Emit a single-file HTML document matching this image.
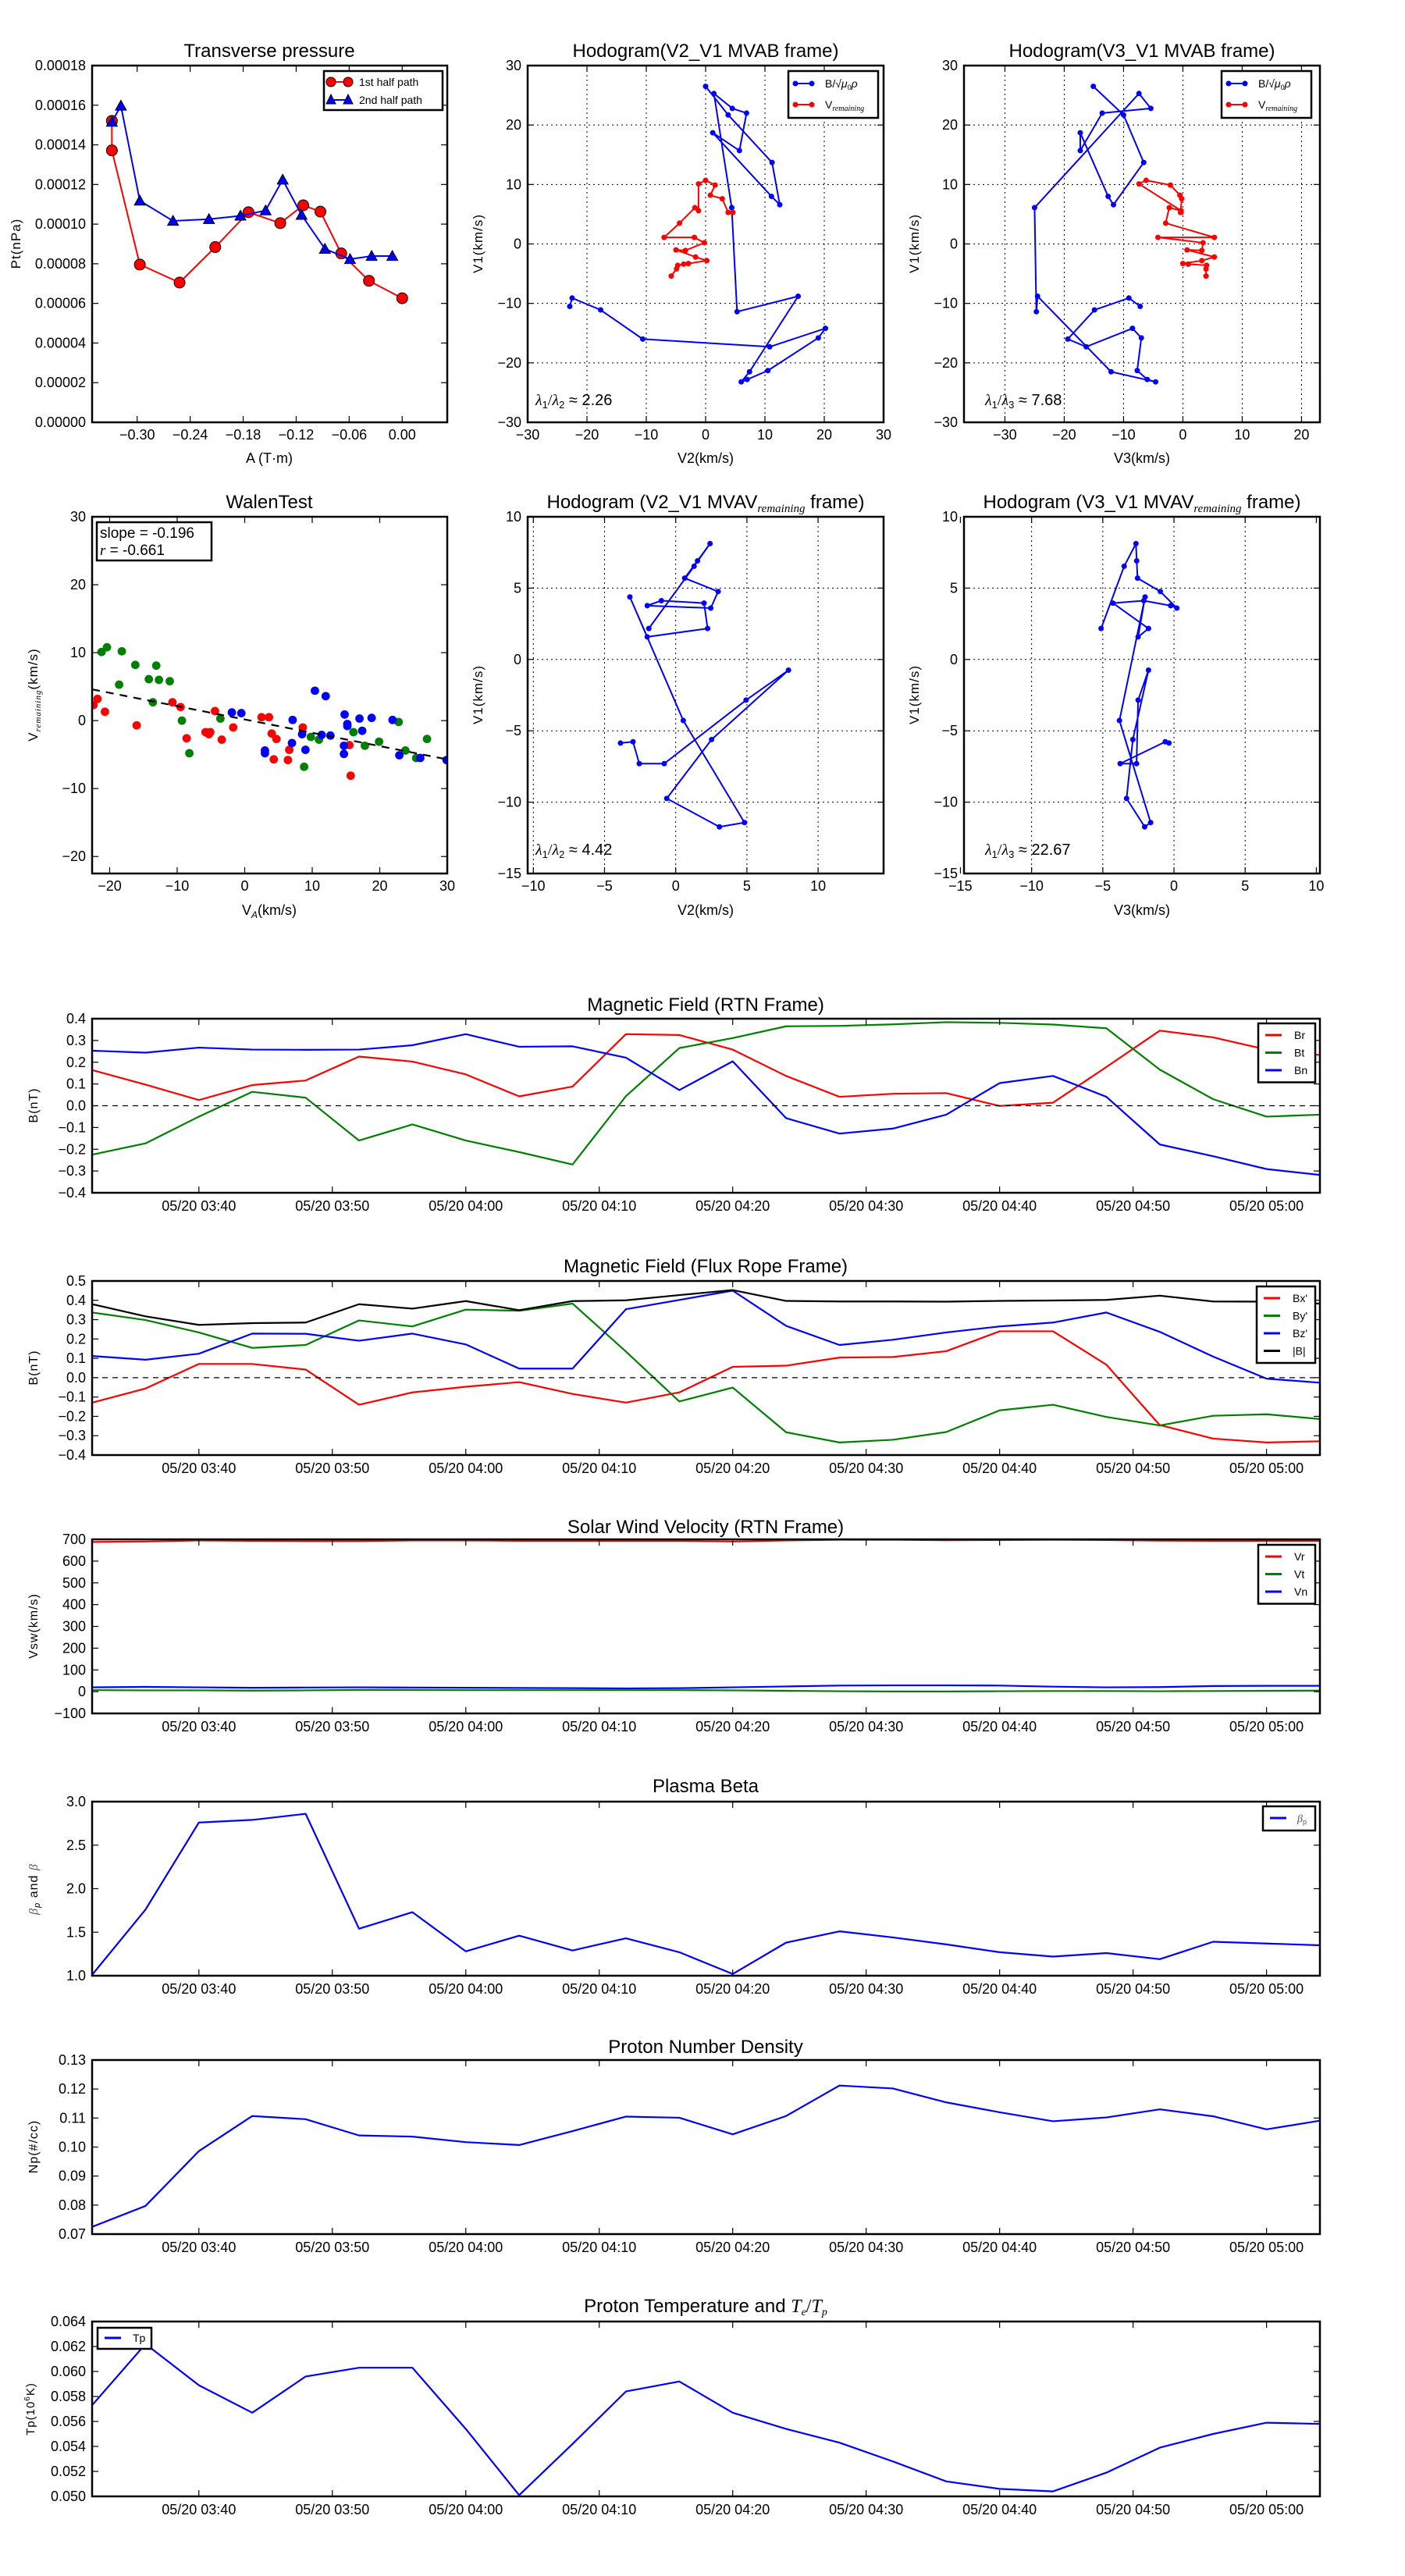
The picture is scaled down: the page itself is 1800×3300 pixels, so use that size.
<!DOCTYPE html>
<html><head><meta charset="utf-8"><title>Flux rope analysis</title>
<style>
html,body{margin:0;padding:0;background:#fff;}
svg{display:block;}
text{font-family:"Liberation Sans","DejaVu Sans",sans-serif;}
</style></head>
<body>
<svg id="fig" width="1800" height="3300" viewBox="0 0 1800 3300" xmlns="http://www.w3.org/2000/svg">
<rect x="0" y="0" width="1800" height="3300" fill="#fff"/>
</svg>
<script>
// ===== Data =====
// Transverse pressure
const tpA1 = [-0.3286,-0.3286,-0.297,-0.252,-0.2116,-0.174,-0.138,-0.112,-0.0926,-0.069,-0.0376,0];
const tpP1 = [0.0001521,0.0001372,0.0000796,0.0000705,0.0000884,0.000106,0.0001005,0.0001095,0.0001063,0.0000852,0.0000714,0.0000626];
const tpA2 = [-0.3286,-0.3184,-0.297,-0.2594,-0.2187,-0.1831,-0.1546,-0.1353,-0.1139,-0.0875,-0.059,-0.0346,-0.0112];
const tpP2 = [0.0001516,0.0001597,0.0001118,0.0001016,0.0001025,0.0001042,0.0001069,0.0001224,0.0001046,0.0000875,0.0000823,0.0000839];
tpP2.splice(12,0,0.0000839);
const tpYTicks = [0,0.00002,0.00004,0.00006,0.00008,0.0001,0.00012,0.00014,0.00016,0.00018];
const tpXTicks = [-0.30,-0.24,-0.18,-0.12,-0.06,0.00];

// MVAB hodograms (blue: B/sqrt(mu0 rho), red: V remaining)
const mvabV1 = [26.5,21.7,13.7,6.6,8.0,18.7,15.7,22.0,22.8,25.3,6.1,-11.4,-8.8,-21.5,-23.2,-22.8,-21.3,-15.8,-14.2,-17.3,-16.0,-11.1,-9.1,-10.5];
const mvabV2 = [0,3.8,11.2,12.5,11.1,1.2,5.7,6.9,4.5,1.4,4.4,5.3,15.6,7.4,6.0,7.0,10.5,19.0,20.2,10.8,-10.6,-17.7,-22.5,-22.9];
const mvabV3 = [-15.1,-10.0,-6.6,-11.7,-12.6,-17.3,-17.3,-13.6,-5.4,-7.4,-25.0,-24.7,-24.5,-12.1,-4.6,-6.0,-7.7,-7.0,-8.5,-16.3,-19.4,-14.9,-9.1,-7.2];
const remV1 = [-5.4,-4.2,-3.6,-3.4,-3.3,-2.8,-2.2,-1.0,-1.1,0.2,1.1,1.1,3.5,6.1,5.6,10.1,10.7,9.9,8.2,7.6,5.3,5.3];
const remV2 = [-5.8,-4.9,-4.7,-3.7,-2.9,0.2,-1.7,-5.0,-3.4,-0.2,-1.9,-7.0,-4.4,-1.8,-1.2,-1.2,0.0,1.6,0.8,2.8,3.8,4.6];
const remV3 = [3.9,3.9,4.0,0.9,0.0,3.2,5.3,0.7,3.2,3.4,-4.2,5.3,-2.9,-2.3,-0.3,-7.4,-6.2,-2.1,-0.5,-0.2,-0.4,-0.3];

// MVAV hodograms
const mvavV1 = [2.17,6.53,8.12,6.91,5.70,4.76,3.60,3.77,4.12,3.95,2.17,1.58,4.38,-4.28,-11.43,-11.73,-9.74,-5.61,-0.75,-2.85,-7.3,-7.3,-5.77,-5.86];
const mvavV2 = [-1.89,1.29,2.41,1.53,0.63,2.98,2.46,-2.0,-1.01,1.99,2.24,-2.0,-3.22,0.53,4.83,3.07,-0.63,2.52,7.92,4.94,-0.81,-2.56,-3.0,-3.88];
const mvavV3 = [-5.12,-3.5,-2.67,-2.62,-2.56,-0.96,0.2,-0.24,-2.12,-4.29,-1.79,-2.52,-2.03,-3.83,-1.64,-2.06,-3.33,-2.89,-1.79,-2.52,-2.63,-3.78,-0.61,-0.35];

// Walen test
const walenGX = [-21.2,-20.4,-18.2,-18.6,-16.2,-13.1,-14.2,-12.7,-11.1,-13.6,-9.3,-8.2,-3.6,8.8,9.8,11,16.1,17.8,19.9,22.8,23.8,25.4,27];
const walenGY = [10.1,10.8,10.2,5.3,8.2,8.1,6.1,6.0,5.8,2.7,0,-4.8,0.3,-6.8,-2.4,-2.8,-1.7,-3.7,-3.1,-0.2,-4.4,-5.5,-2.7];
const walenRX = [-22.4,-21.8,-20.7,-16,-10.7,-9.5,-8.6,-5.8,-5.3,-5.1,-4.4,-3.4,-1.7,2.5,3.6,4.0,4.7,4.3,6.4,6.6,8.6,15.5,15.7];
const walenRY = [2.3,3.2,1.3,-0.7,2.7,2.0,-2.6,-1.7,-2.0,-1.7,1.4,-2.8,-1.0,0.5,0.5,-1.9,-2.7,-5.7,-5.8,-4.3,-1.0,-3.6,-8.1];
const walenBX = [-1.9,-0.5,3.0,3.0,7.1,7.0,8.5,9.0,10.4,12,11.4,12.7,14.8,15.2,15.2,14.7,14.7,17,17.4,18.8,21.9,22.9,26,29.9];
const walenBY = [1.2,1.1,-4.4,-4.8,0.1,-3.3,-2.0,-4.3,4.4,3.6,-2.1,-2.2,0.9,-0.5,-0.8,-3.7,-4.9,0.3,-1.5,0.4,0.1,-5.1,-5.5,-5.8];
const walenSlope = -0.196;
const walenIntercept = 0.17;

// Time series (minutes after 03:00, every 4 min from 03:32)
const tMin = [32,36,40,44,48,52,56,60,64,68,72,76,80,84,88,92,96,100,104,108,112,116,120,124];
const timeTicks = [40,50,60,70,80,90,100,110,120];
const timeTickLabels = ['05/20 03:40','05/20 03:50','05/20 04:00','05/20 04:10','05/20 04:20','05/20 04:30','05/20 04:40','05/20 04:50','05/20 05:00'];
const Br = [0.164,0.097,0.026,0.095,0.116,0.226,0.203,0.144,0.043,0.088,0.329,0.325,0.258,0.137,0.041,0.055,0.058,-0.001,0.014,0.178,0.345,0.314,0.258,0.233];
const Bt = [-0.225,-0.173,-0.05,0.064,0.037,-0.16,-0.086,-0.16,-0.213,-0.27,0.044,0.265,0.311,0.365,0.367,0.374,0.384,0.381,0.373,0.356,0.166,0.03,-0.05,-0.041];
const Bn = [0.253,0.244,0.267,0.258,0.257,0.258,0.278,0.329,0.271,0.273,0.221,0.072,0.204,-0.057,-0.128,-0.105,-0.041,0.104,0.137,0.041,-0.178,-0.232,-0.291,-0.318];
const Bxp = [-0.129,-0.056,0.071,0.071,0.042,-0.14,-0.076,-0.047,-0.023,-0.084,-0.129,-0.076,0.056,0.062,0.104,0.107,0.137,0.24,0.24,0.067,-0.245,-0.315,-0.335,-0.329];
const Byp = [0.337,0.298,0.234,0.154,0.169,0.296,0.265,0.352,0.346,0.383,0.135,-0.123,-0.051,-0.282,-0.335,-0.321,-0.281,-0.169,-0.14,-0.203,-0.247,-0.197,-0.189,-0.214];
const Bzp = [0.112,0.093,0.124,0.228,0.227,0.191,0.228,0.172,0.047,0.047,0.354,0.402,0.45,0.268,0.169,0.196,0.234,0.265,0.285,0.337,0.237,0.109,-0.005,-0.026];
const Bmag = [0.38,0.317,0.273,0.282,0.285,0.38,0.357,0.396,0.349,0.396,0.4,0.427,0.453,0.397,0.394,0.394,0.393,0.397,0.399,0.402,0.424,0.394,0.393,0.383];
const Vr = [688,690,695,693,692,692,695,695,693,693,693,693,690,695,698,698,696,697,698,697,694,693,693,693];
const Vt = [7,6,6,5,6,8,8,7,7,7,7,7,6,4,2,1,1,2,3,3,2,3,4,5];
const Vn = [20,22,20,18,19,20,19,18,17,16,15,16,20,24,28,29,29,28,23,20,21,26,27,27];
const betaP = [1.01,1.76,2.76,2.79,2.86,1.54,1.73,1.28,1.46,1.29,1.43,1.27,1.02,1.38,1.51,1.44,1.36,1.27,1.22,1.26,1.19,1.39,1.37,1.35];
const Np = [0.0725,0.0797,0.0986,0.1107,0.1096,0.1040,0.1036,0.1017,0.1007,0.1055,0.1105,0.1101,0.1044,0.1107,0.1212,0.1202,0.1154,0.1120,0.1089,0.1102,0.1130,0.1106,0.1061,0.1091];
const Tp = [0.0573,0.0622,0.0589,0.0567,0.0596,0.0603,0.0603,0.0554,0.0501,0.0542,0.0584,0.0592,0.0567,0.0554,0.0543,0.0528,0.0512,0.0506,0.0504,0.0519,0.0539,0.0550,0.0559,0.0558];

// ===== Helpers =====
const NS = 'http://www.w3.org/2000/svg';
const svg = document.getElementById('fig');
let clipN = 0;
function mk(parent, tag, attrs, name) {
  const e = document.createElementNS(NS, tag);
  for (const k in attrs) e.setAttribute(k, attrs[k]);
  
  
  parent.appendChild(e);
  return e;
}
function txt(parent, x, y, s, size, anchor, name, extra) {
  const a = {x: x, y: y, 'font-size': size, 'text-anchor': anchor || 'start', fill: '#000'};
  if (extra) for (const k in extra) a[k] = extra[k];
  const t = mk(parent, 'text', a, name);
  t.textContent = s;
  return t;
}
function span(t, s, attrs, name) {
  const e = mk(t, 'tspan', attrs || {}, name);
  e.textContent = s;
  return e;
}
function fmt(v, d) { const s = Math.abs(v).toFixed(d); return (v < -1e-12 ? '\u2212' : '') + s; }
function axes(name, L, T, R, B, xmin, xmax, ymin, ymax) {
  const g = mk(svg, 'g', {}, name);
  const sx = v => L + (v - xmin) / (xmax - xmin) * (R - L);
  const sy = v => B - (v - ymin) / (ymax - ymin) * (B - T);
  const id = 'clip' + (clipN++);
  const cp = mk(g, 'clipPath', {id: id}, name + '-clip');
  mk(cp, 'rect', {x: L, y: T, width: R - L, height: B - T}, name + '-clip-rect');
  const plot = mk(g, 'g', {'clip-path': 'url(#' + id + ')'}, name + '-plot-area');
  return {g, plot, sx, sy, L, T, R, B, name};
}
function frame(a) {
  mk(a.g, 'rect', {x: a.L, y: a.T, width: a.R - a.L, height: a.B - a.T, fill: 'none', stroke: '#000', 'stroke-width': 2.5}, a.name + '-frame');
}
function xticks(a, vals, labels, off) {
  const g = mk(a.g, 'g', {}, a.name + '-x-axis');
  vals.forEach((v, i) => {
    const x = a.sx(v);
    mk(g, 'line', {x1: x, y1: a.B, x2: x, y2: a.B - 8, stroke: '#000', 'stroke-width': 1.2}, 'x-tick');
    mk(g, 'line', {x1: x, y1: a.T, x2: x, y2: a.T + 8, stroke: '#000', 'stroke-width': 1.2}, 'x-tick-top');
    txt(g, x, a.B + off, labels[i], 18, 'middle', 'x-tick-label');
  });
}
function yticks(a, vals, labels) {
  const g = mk(a.g, 'g', {}, a.name + '-y-axis');
  vals.forEach((v, i) => {
    const y = a.sy(v);
    mk(g, 'line', {x1: a.L, y1: y, x2: a.L + 8, y2: y, stroke: '#000', 'stroke-width': 1.2}, 'y-tick');
    mk(g, 'line', {x1: a.R, y1: y, x2: a.R - 8, y2: y, stroke: '#000', 'stroke-width': 1.2}, 'y-tick-right');
    txt(g, a.L - 8, y + 6, labels[i], 18, 'end', 'y-tick-label');
  });
}
function grid(a, xs, ys) {
  const g = mk(a.plot, 'g', {}, a.name + '-grid');
  xs.forEach(v => { const x = a.sx(v); mk(g, 'line', {x1: x, y1: a.T, x2: x, y2: a.B, stroke: '#000', 'stroke-width': 1, 'stroke-dasharray': '2,4'}, 'grid-line-x'); });
  ys.forEach(v => { const y = a.sy(v); mk(g, 'line', {x1: a.L, y1: y, x2: a.R, y2: y, stroke: '#000', 'stroke-width': 1, 'stroke-dasharray': '2,4'}, 'grid-line-y'); });
}
function line(a, xs, ys, color, w, name) {
  const pts = xs.map((x, i) => a.sx(x).toFixed(2) + ',' + a.sy(ys[i]).toFixed(2)).join(' ');
  return mk(a.plot, 'polyline', {points: pts, fill: 'none', stroke: color, 'stroke-width': w, 'stroke-linejoin': 'round'}, name);
}
function dots(a, xs, ys, color, r, name, edge) {
  const g = mk(a.plot, 'g', {}, name);
  xs.forEach((x, i) => {
    mk(g, 'circle', {cx: a.sx(x), cy: a.sy(ys[i]), r: r, fill: color, stroke: edge || 'none', 'stroke-width': 1}, name + '-point');
  });
  return g;
}
function tris(a, xs, ys, color, s, name) {
  const g = mk(a.plot, 'g', {}, name);
  xs.forEach((x, i) => {
    const cx = a.sx(x), cy = a.sy(ys[i]);
    mk(g, 'polygon', {points: cx + ',' + (cy - s) + ' ' + (cx - s) + ',' + (cy + s * 0.8) + ' ' + (cx + s) + ',' + (cy + s * 0.8), fill: color, stroke: '#000', 'stroke-width': 1}, name + '-point');
  });
  return g;
}
function title(x, y, s, name) { return txt(svg, x, y, s, 24, 'middle', name); }
function ylabel(x, y, s, name, size) {
  return txt(svg, x, y, s, size || 17, 'middle', name, {transform: 'rotate(-90 ' + x + ' ' + y + ')', 'font-family': '"DejaVu Sans",sans-serif', 'letter-spacing': '1'});
}

// ===== Row 1: Transverse pressure =====
(function(){
  const a = axes('transverse-pressure-chart', 118, 84, 573, 541, -0.351, 0.051, 0, 0.00018);
  line(a, tpA1, tpP1, '#ff0000', 2, 'first-half-path-line');
  dots(a, tpA1, tpP1, '#ff0000', 7, 'first-half-path-markers', '#000');
  line(a, tpA2, tpP2, '#0000ff', 2, 'second-half-path-line');
  tris(a, tpA2, tpP2, '#0000ff', 7, 'second-half-path-markers');
  frame(a);
  xticks(a, tpXTicks, tpXTicks.map(v => fmt(v, 2)), 22);
  yticks(a, tpYTicks, tpYTicks.map(v => v.toFixed(5)));
  title(345, 73, 'Transverse pressure', 'transverse-pressure-title');
  txt(svg, 345, 593, 'A (T\u00b7m)', 18, 'middle', 'x-axis-title');
  ylabel(26, 312, 'Pt(nPa)', 'y-axis-title');
  const lg = mk(svg, 'g', {}, 'transverse-pressure-legend');
  mk(lg, 'rect', {x: 415, y: 91, width: 152, height: 50, fill: '#fff', stroke: '#000', 'stroke-width': 2.5}, 'legend-box');
  mk(lg, 'line', {x1: 421, y1: 105, x2: 450, y2: 105, stroke: '#ff0000', 'stroke-width': 2}, 'legend-line-1st');
  mk(lg, 'circle', {cx: 424, cy: 105, r: 6, fill: '#ff0000', stroke: '#000'}, 'legend-marker-1st');
  mk(lg, 'circle', {cx: 446, cy: 105, r: 6, fill: '#ff0000', stroke: '#000'}, 'legend-marker-1st');
  txt(lg, 460, 110, '1st half path', 14, 'start', 'legend-label-1st');
  mk(lg, 'line', {x1: 421, y1: 128, x2: 450, y2: 128, stroke: '#0000ff', 'stroke-width': 2}, 'legend-line-2nd');
  mk(lg, 'polygon', {points: '424,121 418,133 430,133', fill: '#0000ff', stroke: '#000'}, 'legend-marker-2nd');
  mk(lg, 'polygon', {points: '446,121 440,133 452,133', fill: '#0000ff', stroke: '#000'}, 'legend-marker-2nd');
  txt(lg, 460, 133, '2nd half path', 14, 'start', 'legend-label-2nd');
})();

function hodoLegend(x, y, name) {
  const lg = mk(svg, 'g', {}, name);
  mk(lg, 'rect', {x: x, y: y, width: 115, height: 60, fill: '#fff', stroke: '#000', 'stroke-width': 2.5}, 'legend-box');
  mk(lg, 'line', {x1: x + 9, y1: y + 16, x2: x + 30, y2: y + 16, stroke: '#0000ff', 'stroke-width': 2}, 'legend-line-b');
  mk(lg, 'circle', {cx: x + 9, cy: y + 16, r: 3.5, fill: '#0000ff'}, 'legend-marker-b');
  mk(lg, 'circle', {cx: x + 30, cy: y + 16, r: 3.5, fill: '#0000ff'}, 'legend-marker-b');
  const t1 = txt(lg, x + 47, y + 21, 'B/\u221a', 14, 'start', 'legend-label-b');
  span(t1, '\u03bc', {'font-style': 'italic'}, 'mu');
  span(t1, '0', {'font-size': 9, dy: 3}, 'sub');
  span(t1, '\u03c1', {'font-style': 'italic', dy: -3}, 'rho');
  mk(lg, 'line', {x1: x + 9, y1: y + 43, x2: x + 30, y2: y + 43, stroke: '#ff0000', 'stroke-width': 2}, 'legend-line-v');
  mk(lg, 'circle', {cx: x + 9, cy: y + 43, r: 3.5, fill: '#ff0000'}, 'legend-marker-v');
  mk(lg, 'circle', {cx: x + 30, cy: y + 43, r: 3.5, fill: '#ff0000'}, 'legend-marker-v');
  const t2 = txt(lg, x + 47, y + 48, 'V', 14, 'start', 'legend-label-v');
  span(t2, 'remaining', {'font-size': 10, 'font-style': 'italic', 'font-family': '"Liberation Serif",serif', dy: 3}, 'sub');
}
function lambdaText(x, y, a, b, val, name) {
  const t = txt(svg, x, y, '', 20, 'start', name);
  span(t, '\u03bb', {'font-style': 'italic', 'font-family': '"Liberation Serif",serif'}, 'lambda');
  span(t, a, {'font-size': 13, dy: 4}, 'sub');
  span(t, '/', {dy: -4, 'font-family': '"Liberation Serif",serif'}, 'slash');
  span(t, '\u03bb', {'font-style': 'italic', 'font-family': '"Liberation Serif",serif'}, 'lambda');
  span(t, b, {'font-size': 13, dy: 4}, 'sub');
  span(t, ' \u2248 ' + val, {dy: -4}, 'value');
}

// ===== Row 1: Hodogram V2-V1 MVAB =====
(function(){
  const a = axes('hodogram-v2-v1-mvab', 676, 84, 1132, 541, -30, 30, -30, 30);
  grid(a, [-20,-10,0,10,20], [-20,-10,0,10,20]);
  line(a, mvabV2, mvabV1, '#0000ff', 2, 'b-alfven-path');
  dots(a, mvabV2, mvabV1, '#0000ff', 3.5, 'b-alfven-markers');
  line(a, remV2, remV1, '#ff0000', 2, 'v-remaining-path');
  dots(a, remV2, remV1, '#ff0000', 3.5, 'v-remaining-markers');
  frame(a);
  const tk = [-30,-20,-10,0,10,20,30];
  xticks(a, tk, tk.map(v => fmt(v, 0)), 22);
  yticks(a, tk, tk.map(v => fmt(v, 0)));
  title(904, 73, 'Hodogram(V2_V1 MVAB frame)', 'hodogram-mvab-v2-title');
  txt(svg, 904, 593, 'V2(km/s)', 18, 'middle', 'x-axis-title');
  ylabel(618, 312, 'V1(km/s)', 'y-axis-title');
  hodoLegend(1010, 91, 'hodogram-mvab-v2-legend');
  lambdaText(686, 519, '1', '2', '2.26', 'eigenvalue-ratio-label');
})();

// ===== Row 1: Hodogram V3-V1 MVAB =====
(function(){
  const a = axes('hodogram-v3-v1-mvab', 1235, 84, 1691, 541, -36.9, 23.1, -30, 30);
  grid(a, [-30,-20,-10,0,10,20], [-20,-10,0,10,20]);
  line(a, mvabV3, mvabV1, '#0000ff', 2, 'b-alfven-path');
  dots(a, mvabV3, mvabV1, '#0000ff', 3.5, 'b-alfven-markers');
  line(a, remV3, remV1, '#ff0000', 2, 'v-remaining-path');
  dots(a, remV3, remV1, '#ff0000', 3.5, 'v-remaining-markers');
  frame(a);
  const xt = [-30,-20,-10,0,10,20], yt = [-30,-20,-10,0,10,20,30];
  xticks(a, xt, xt.map(v => fmt(v, 0)), 22);
  yticks(a, yt, yt.map(v => fmt(v, 0)));
  title(1463, 73, 'Hodogram(V3_V1 MVAB frame)', 'hodogram-mvab-v3-title');
  txt(svg, 1463, 593, 'V3(km/s)', 18, 'middle', 'x-axis-title');
  ylabel(1177, 312, 'V1(km/s)', 'y-axis-title');
  hodoLegend(1565, 91, 'hodogram-mvab-v3-legend');
  lambdaText(1262, 519, '1', '3', '7.68', 'eigenvalue-ratio-label');
})();

// ===== Row 2: Walen test =====
(function(){
  const a = axes('walen-test-chart', 118, 662, 573, 1119, -22.6, 30, -22.5, 30);
  const fx = [-22.6, 30];
  const fy = fx.map(v => walenSlope * v + walenIntercept);
  dots(a, walenGX, walenGY, '#008000', 5.4, 'walen-green-points');
  dots(a, walenRX, walenRY, '#ff0000', 5.4, 'walen-red-points');
  dots(a, walenBX, walenBY, '#0000ff', 5.4, 'walen-blue-points');
  const fl = line(a, fx, fy, '#000', 2.2, 'walen-fit-line');
  fl.setAttribute('stroke-dasharray', '10,8');
  frame(a);
  const xt = [-20,-10,0,10,20,30], yt = [-20,-10,0,10,20,30];
  xticks(a, xt, xt.map(v => fmt(v, 0)), 22);
  yticks(a, yt, yt.map(v => fmt(v, 0)));
  title(345, 651, 'WalenTest', 'walen-test-title');
  const xl = txt(svg, 345, 1172, 'V', 18, 'middle', 'x-axis-title');
  span(xl, 'A', {'font-size': 12, 'font-style': 'italic', dy: 4}, 'sub');
  span(xl, '(km/s)', {dy: -4}, 'unit');
  const yl = ylabel(48, 890, 'V', 'y-axis-title');
  span(yl, 'remaining', {'font-size': 11, 'font-style': 'italic', 'font-family': '"Liberation Serif",serif', dy: 4}, 'sub');
  span(yl, '(km/s)', {dy: -4}, 'unit');
  const bx = mk(svg, 'g', {}, 'walen-stats-box');
  mk(bx, 'rect', {x: 124, y: 669, width: 147, height: 49, fill: '#fff', stroke: '#000', 'stroke-width': 2.5}, 'stats-box-frame');
  txt(bx, 128, 689, 'slope = -0.196', 19, 'start', 'slope-label');
  const rt = txt(bx, 128, 711, '', 19, 'start', 'r-label');
  span(rt, 'r', {'font-style': 'italic', 'font-family': '"Liberation Serif",serif'}, 'r');
  span(rt, ' = -0.661', {}, 'r-value');
})();

// ===== Row 2: Hodogram V2-V1 MVAV =====
function mvavTitle(x, comp, name) {
  const t = txt(svg, x, 651, 'Hodogram (' + comp + '_V1 MVAV', 24, 'middle', name);
  span(t, 'remaining', {'font-size': 15, 'font-style': 'italic', 'font-family': '"Liberation Serif",serif', dy: 5}, 'sub');
  span(t, ' frame)', {dy: -5}, 'title-end');
}
(function(){
  const a = axes('hodogram-v2-v1-mvav', 676, 662, 1132, 1119, -10.4, 14.6, -15, 10);
  grid(a, [-10,-5,0,5,10], [-10,-5,0,5]);
  line(a, mvavV2, mvavV1, '#0000ff', 2, 'b-alfven-path');
  dots(a, mvavV2, mvavV1, '#0000ff', 3.5, 'b-alfven-markers');
  frame(a);
  const xt = [-10,-5,0,5,10], yt = [-15,-10,-5,0,5,10];
  xticks(a, xt, xt.map(v => fmt(v, 0)), 22);
  yticks(a, yt, yt.map(v => fmt(v, 0)));
  mvavTitle(904, 'V2', 'hodogram-mvav-v2-title');
  txt(svg, 904, 1172, 'V2(km/s)', 18, 'middle', 'x-axis-title');
  ylabel(618, 890, 'V1(km/s)', 'y-axis-title');
  lambdaText(686, 1095, '1', '2', '4.42', 'eigenvalue-ratio-label');
})();
(function(){
  const a = axes('hodogram-v3-v1-mvav', 1235, 662, 1691, 1119, -14.75, 10.25, -15, 10);
  grid(a, [-10,-5,0,5], [-10,-5,0,5]);
  line(a, mvavV3, mvavV1, '#0000ff', 2, 'b-alfven-path');
  dots(a, mvavV3, mvavV1, '#0000ff', 3.5, 'b-alfven-markers');
  frame(a);
  const xt = [-15,-10,-5,0,5,10], yt = [-15,-10,-5,0,5,10];
  xticks(a, xt, xt.map(v => fmt(v, 0)), 22);
  yticks(a, yt, yt.map(v => fmt(v, 0)));
  mvavTitle(1463, 'V3', 'hodogram-mvav-v3-title');
  txt(svg, 1463, 1172, 'V3(km/s)', 18, 'middle', 'x-axis-title');
  ylabel(1177, 890, 'V1(km/s)', 'y-axis-title');
  lambdaText(1262, 1095, '1', '3', '22.67', 'eigenvalue-ratio-label');
})();

// ===== Time series panels =====
function tsPanel(name, T, B, ymin, ymax, yt, dec, series, titleStr, titleY, ylab, legend) {
  const a = axes(name, 118, T, 1691, B, 32, 124, ymin, ymax);
  series.forEach(s => line(a, tMin, s.v, s.c, 2.2, s.n));
  if (ymin < 0 && ymax > 0 && name !== 'solar-wind-velocity-chart') {
    const z = mk(a.plot, 'line', {x1: a.L, y1: a.sy(0), x2: a.R, y2: a.sy(0), stroke: '#000', 'stroke-width': 1.2, 'stroke-dasharray': '7,6'}, 'zero-line');
  }
  frame(a);
  xticks(a, timeTicks, timeTickLabels, 23);
  yticks(a, yt, yt.map(v => fmt(v, dec)));
  return a;
}
function tsLegend(x, y, w, items, name) {
  const lg = mk(svg, 'g', {}, name);
  const h = items.length * 22.5 + 8;
  mk(lg, 'rect', {x: x, y: y, width: w, height: h, fill: '#fff', stroke: '#000', 'stroke-width': 2.5}, 'legend-box');
  items.forEach((it, i) => {
    const yy = y + 15 + i * 22.5;
    mk(lg, 'line', {x1: x + 9, y1: yy, x2: x + 30, y2: yy, stroke: it.c, 'stroke-width': 3}, 'legend-line-' + it.k);
    txt(lg, x + 46, yy + 5, it.l, 14, 'start', 'legend-label-' + it.k);
  });
}
function range(a, b, s, d) { const r = []; for (let v = a; v <= b + 1e-9; v += s) r.push(+v.toFixed(d + 2)); return r; }

tsPanel('magnetic-field-rtn-chart', 1305, 1528, -0.4, 0.4, range(-0.4, 0.4, 0.1, 1), 1,
  [{v: Br, c: '#ff0000', n: 'br-line'}, {v: Bt, c: '#008000', n: 'bt-line'}, {v: Bn, c: '#0000ff', n: 'bn-line'}]);
title(904, 1295, 'Magnetic Field (RTN Frame)', 'magnetic-field-rtn-title');
ylabel(48, 1416, 'B(nT)', 'y-axis-title', 16);
tsLegend(1612, 1311, 73, [{c: '#ff0000', l: 'Br', k: 'br'}, {c: '#008000', l: 'Bt', k: 'bt'}, {c: '#0000ff', l: 'Bn', k: 'bn'}], 'magnetic-field-rtn-legend');

tsPanel('magnetic-field-flux-rope-chart', 1641, 1864, -0.4, 0.5, range(-0.4, 0.5, 0.1, 1), 1,
  [{v: Bxp, c: '#ff0000', n: 'bx-prime-line'}, {v: Byp, c: '#008000', n: 'by-prime-line'}, {v: Bzp, c: '#0000ff', n: 'bz-prime-line'}, {v: Bmag, c: '#000000', n: 'b-magnitude-line'}]);
title(904, 1630, 'Magnetic Field (Flux Rope Frame)', 'magnetic-field-flux-rope-title');
ylabel(48, 1752, 'B(nT)', 'y-axis-title', 16);
tsLegend(1610, 1648, 75, [{c: '#ff0000', l: "Bx'", k: 'bx'}, {c: '#008000', l: "By'", k: 'by'}, {c: '#0000ff', l: "Bz'", k: 'bz'}, {c: '#000', l: '|B|', k: 'bmag'}], 'magnetic-field-flux-rope-legend');

tsPanel('solar-wind-velocity-chart', 1972, 2195, -100, 700, range(-100, 700, 100, 0), 0,
  [{v: Vr, c: '#ff0000', n: 'vr-line'}, {v: Vt, c: '#008000', n: 'vt-line'}, {v: Vn, c: '#0000ff', n: 'vn-line'}]);
title(904, 1964, 'Solar Wind Velocity (RTN Frame)', 'solar-wind-velocity-title');
ylabel(48, 2083, 'Vsw(km/s)', 'y-axis-title', 16);
tsLegend(1612, 1979, 73, [{c: '#ff0000', l: 'Vr', k: 'vr'}, {c: '#008000', l: 'Vt', k: 'vt'}, {c: '#0000ff', l: 'Vn', k: 'vn'}], 'solar-wind-velocity-legend');

tsPanel('plasma-beta-chart', 2308, 2531, 1.0, 3.0, range(1.0, 3.0, 0.5, 1), 1,
  [{v: betaP, c: '#0000ff', n: 'beta-p-line'}]);
title(904, 2296, 'Plasma Beta', 'plasma-beta-title');
(function(){
  const yl = ylabel(48, 2420, '', 'y-axis-title', 16);
  span(yl, '\u03b2', {'font-style': 'italic', 'font-family': '"Liberation Serif",serif', fill: '#555'}, 'beta');
  span(yl, 'p', {'font-size': 11, 'font-style': 'italic', dy: 3}, 'sub');
  span(yl, ' and ', {dy: -3}, 'and');
  span(yl, '\u03b2', {'font-style': 'italic', 'font-family': '"Liberation Serif",serif', fill: '#555'}, 'beta');
  const lg = mk(svg, 'g', {}, 'plasma-beta-legend');
  mk(lg, 'rect', {x: 1618, y: 2314, width: 67, height: 31, fill: '#fff', stroke: '#000', 'stroke-width': 2.5}, 'legend-box');
  mk(lg, 'line', {x1: 1627, y1: 2329, x2: 1648, y2: 2329, stroke: '#0000ff', 'stroke-width': 3}, 'legend-line-beta');
  const t = txt(lg, 1662, 2334, '', 14, 'start', 'legend-label-beta');
  span(t, '\u03b2', {'font-style': 'italic', 'font-family': '"Liberation Serif",serif', fill: '#555'}, 'beta');
  span(t, 'p', {'font-size': 9, dy: 3, fill: '#555'}, 'sub');
})();

tsPanel('proton-density-chart', 2639, 2862, 0.07, 0.13, range(0.07, 0.13, 0.01, 2), 2,
  [{v: Np, c: '#0000ff', n: 'np-line'}]);
title(904, 2630, 'Proton Number Density', 'proton-density-title');
ylabel(48, 2750, 'Np(#/cc)', 'y-axis-title', 16);

tsPanel('proton-temperature-chart', 2974, 3198, 0.050, 0.064, range(0.050, 0.064, 0.002, 3), 3,
  [{v: Tp, c: '#0000ff', n: 'tp-line'}]);
(function(){
  const t = title(904, 2962, 'Proton Temperature and ', 'proton-temperature-title');
  span(t, 'T', {'font-style': 'italic', 'font-family': '"Liberation Serif",serif'}, 'te');
  span(t, 'e', {'font-size': 14, 'font-style': 'italic', 'font-family': '"Liberation Serif",serif', dy: 4}, 'sub');
  span(t, '/', {dy: -4, 'font-family': '"Liberation Serif",serif'}, 'slash');
  span(t, 'T', {'font-style': 'italic', 'font-family': '"Liberation Serif",serif'}, 'tp');
  span(t, 'p', {'font-size': 14, 'font-style': 'italic', 'font-family': '"Liberation Serif",serif', dy: 4}, 'sub');
  const yl = ylabel(44, 3086, 'Tp(10', 'y-axis-title', 15);
  span(yl, '6', {'font-size': 10, dy: -6}, 'sup');
  span(yl, 'K)', {dy: 6}, 'unit');
  const lg = mk(svg, 'g', {}, 'proton-temperature-legend');
  mk(lg, 'rect', {x: 125, y: 2982, width: 69, height: 27, fill: '#fff', stroke: '#000', 'stroke-width': 2.5}, 'legend-box');
  mk(lg, 'line', {x1: 134, y1: 2995, x2: 155, y2: 2995, stroke: '#0000ff', 'stroke-width': 3}, 'legend-line-tp');
  txt(lg, 170, 3000, 'Tp', 14, 'start', 'legend-label-tp');
})();
</script>
</body></html>
